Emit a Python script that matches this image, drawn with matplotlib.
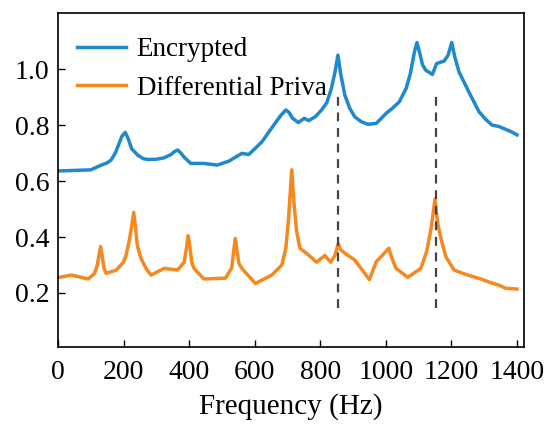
import matplotlib
matplotlib.use("Agg")
import matplotlib.pyplot as plt

enc_f = [0, 50, 100, 132, 150, 162, 175, 185, 195, 205, 213, 225, 243, 260, 274, 300, 324,
         345, 355, 365, 375, 385, 405, 445, 486, 521, 561, 582, 600, 622, 640, 662, 680,
         695, 705, 715, 733, 751, 765, 785, 804, 820, 834, 845, 854, 862, 875, 890, 905,
         925, 945, 971, 1001, 1020, 1041, 1062, 1075, 1087, 1095, 1103, 1112, 1122, 1142,
         1155, 1178, 1190, 1201, 1210, 1223, 1238, 1253, 1270, 1284, 1305, 1324, 1345,
         1365, 1385, 1400]
enc_v = [0.636, 0.638, 0.640, 0.657, 0.665, 0.675, 0.700, 0.730, 0.760, 0.774, 0.755,
         0.715, 0.693, 0.680, 0.677, 0.678, 0.683, 0.695, 0.705, 0.711, 0.700, 0.685,
         0.663, 0.663, 0.657, 0.671, 0.699, 0.695, 0.715, 0.740, 0.770, 0.806, 0.835,
         0.854, 0.845, 0.825, 0.809, 0.824, 0.816, 0.830, 0.854, 0.880, 0.931, 0.990,
         1.050, 0.985, 0.907, 0.860, 0.830, 0.812, 0.803, 0.806, 0.842, 0.860, 0.883,
         0.931, 0.985, 1.060, 1.095, 1.060, 1.015, 0.996, 0.981, 1.020, 1.029, 1.050,
         1.095, 1.045, 0.991, 0.955, 0.919, 0.880, 0.848, 0.820, 0.800, 0.795, 0.785,
         0.775, 0.765]

dp_f = [0, 41, 92, 112, 120, 126, 130, 134, 140, 147, 178, 200, 208, 218, 225, 231, 236,
        242, 253, 270, 284, 324, 365, 385, 392, 397, 402, 408, 415, 445, 486, 511, 530,
        536, 541, 546, 552, 561, 602, 652, 683, 695, 703, 713, 720, 728, 738, 764, 789,
        814, 832, 845, 855, 862, 875, 905, 950, 971, 990, 1009, 1020, 1031, 1067, 1107,
        1125, 1138, 1150, 1158, 1168, 1183, 1208, 1235, 1264, 1295, 1324, 1345, 1365, 1400]
dp_v = [0.255, 0.264, 0.250, 0.270, 0.300, 0.340, 0.366, 0.340, 0.290, 0.270, 0.282,
        0.310, 0.336, 0.390, 0.440, 0.488, 0.440, 0.370, 0.324, 0.285, 0.264, 0.288,
        0.282, 0.310, 0.360, 0.405, 0.370, 0.310, 0.288, 0.250, 0.252, 0.253, 0.290,
        0.350, 0.395, 0.350, 0.305, 0.288, 0.234, 0.264, 0.300, 0.360, 0.460, 0.640,
        0.520, 0.420, 0.360, 0.336, 0.310, 0.334, 0.310, 0.335, 0.377, 0.355, 0.342,
        0.318, 0.248, 0.312, 0.335, 0.360, 0.320, 0.288, 0.256, 0.288, 0.350, 0.430,
        0.536, 0.450, 0.395, 0.330, 0.282, 0.270, 0.259, 0.248, 0.235, 0.228, 0.217, 0.214]

vlines_f = [855, 1152]
vline_lo, vline_hi = 0.145, 0.913

xticks = [0, 200, 400, 600, 800, 1000, 1200, 1400]
yticks = [0.2, 0.4, 0.6, 0.8, 1.0]

plt.rcParams['font.family'] = ['Liberation Serif', 'DejaVu Serif']

fig = plt.figure(figsize=(5.52, 4.24), dpi=100)
ax = fig.add_axes([0.105, 0.1816, 0.844, 0.7874])

ax.plot(enc_f, enc_v, color='#1f88cf', lw=2.5, label='Encrypted', solid_joinstyle='round')
ax.plot(dp_f, dp_v, color='#f5891f', lw=2.5, label='Differential Priva', solid_joinstyle='round')
for f in vlines_f:
    ax.plot([f, f], [vline_lo, vline_hi], color='#444444', lw=1.6, ls=(0, (4, 3)))

ax.set_xlim(11, 1421)
ax.set_ylim(0.007, 1.2)
ax.set_xticks(xticks)
ax.set_yticks(yticks)
ax.set_yticklabels([f'{t:.1f}' for t in yticks])
ax.tick_params(direction='in', length=5, width=1, labelsize=20, pad=6)
ax.tick_params(axis='x', pad=9)
ax.set_xlabel('Frequency (Hz)', fontsize=21, labelpad=6)
for s in ax.spines.values():
    s.set_linewidth(1.2)

ax.legend(loc='upper left', frameon=False, fontsize=19.5, handlelength=1.8,
          handletextpad=0.4, labelspacing=0.5, borderaxespad=0.3,
          bbox_to_anchor=(0.0, 0.985))

fig.savefig('out.png', dpi=100)
